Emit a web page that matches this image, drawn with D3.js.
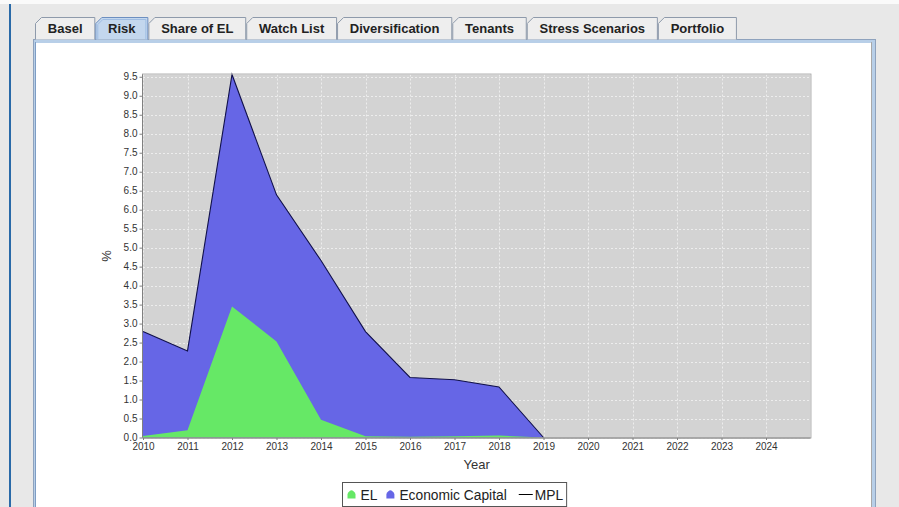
<!DOCTYPE html>
<html>
<head>
<meta charset="utf-8">
<script src="https://cdn.jsdelivr.net/npm/d3@7"></script>
<style>
  html, body { margin: 0; padding: 0; background: #e8e8e8; }
  svg { display: block; }
  text { font-family: "Liberation Sans", Arial, sans-serif; }
</style>
</head>
<body>
<svg id="chart" width="899" height="507"></svg>
<script>
// tabs of the window
var tabNames = ["Basel", "Risk", "Share of EL", "Watch List", "Diversification", "Tenants", "Stress Scenarios", "Portfolio"];
var selectedTab = "Risk";

// chart data
var years = [2010, 2011, 2012, 2013, 2014, 2015, 2016, 2017, 2018, 2019];
var elValues = [0.04, 0.19, 3.45, 2.53, 0.47, 0.03, 0.02, 0.03, 0.05, 0.0];
var ecValues = [2.79, 2.28, 9.56, 6.39, 4.66, 2.79, 1.58, 1.52, 1.33, 0.0];
var mplValues = [2.79, 2.28, 9.56, 6.39, 4.66, 2.79, 1.58, 1.52, 1.33, 0.0];

var xTicks = [2010, 2011, 2012, 2013, 2014, 2015, 2016, 2017, 2018, 2019, 2020, 2021, 2022, 2023, 2024];
var yTicks = [0, 0.5, 1, 1.5, 2, 2.5, 3, 3.5, 4, 4.5, 5, 5.5, 6, 6.5, 7, 7.5, 8, 8.5, 9, 9.5];

var legendItems = [
	{name: "EL", kind: "area", color: "rgb(102,232,102)"},
	{name: "Economic Capital", kind: "area", color: "rgb(102,102,230)"},
	{name: "MPL", kind: "line", color: "#000"}
];

var svg = d3.select("#chart");

/*
 * Window frame
 */
svg.append("rect").attr("x", 0).attr("y", 0).attr("width", 899).attr("height", 4).attr("fill", "#fafafa");
svg.append("rect").attr("x", 9).attr("y", 4).attr("width", 2).attr("height", 503).attr("fill", "#2a6aa8");

// content panel
svg.append("rect").attr("x", 33.5).attr("y", 39.5).attr("width", 842).attr("height", 480)
	.attr("fill", "#b8cfe8").attr("stroke", "#8ea2bd");
svg.append("rect").attr("x", 36).attr("y", 43).attr("width", 835).attr("height", 470)
	.attr("fill", "#ffffff");
svg.append("line").attr("x1", 35.5).attr("x2", 35.5).attr("y1", 42).attr("y2", 507).attr("stroke", "#7f9dc4");
svg.append("line").attr("x1", 871.5).attr("x2", 871.5).attr("y1", 42).attr("y2", 507).attr("stroke", "#a8a8a8");

// tabs
var tabGroup = svg.append("g");
var tabX = 35;
tabNames.forEach(function(name) {
	var g = tabGroup.append("g");
	var label = g.append("text")
		.attr("y", 33)
		.attr("font-size", "13px")
		.attr("font-weight", "bold")
		.attr("fill", "#222")
		.text(name);
	var w = label.node().getComputedTextLength() + 25.6;
	var sel = (name == selectedTab);
	var top = 17.5, bottom = 39.5;
	g.insert("path", "text")
		.attr("d", "M" + (tabX + 0.5) + "," + bottom +
			" L" + (tabX + 0.5) + "," + (top + 6) +
			" L" + (tabX + 6.5) + "," + top +
			" L" + (tabX + w - 0.5) + "," + top +
			" L" + (tabX + w - 0.5) + "," + bottom)
		.attr("fill", sel ? "#c3d7ee" : "#eeeeee")
		.attr("stroke", sel ? "#6d8fc0" : "#8e9aab");
	if(sel) {
		g.insert("path", "text")
			.attr("d", "M" + (tabX + 2.5) + "," + bottom +
				" L" + (tabX + 2.5) + "," + (top + 7) +
				" L" + (tabX + 7.5) + "," + (top + 2) +
				" L" + (tabX + w - 2.5) + "," + (top + 2) +
				" L" + (tabX + w - 2.5) + "," + bottom)
			.attr("fill", "none")
			.attr("stroke", "#9fbde3");
	}
	label.attr("x", tabX + w / 2).attr("text-anchor", "middle");
	tabX += w;
});

/*
 * Chart
 */
var plot = {left: 143, right: 810.5, top: 74.5, bottom: 437.5};

var x = d3.scaleLinear().domain([2010, 2025]).range([plot.left, plot.right]);
var y = d3.scaleLinear().domain([0, 9.56]).range([plot.bottom, plot.top]);

svg.append("rect")
	.attr("x", plot.left).attr("y", plot.top)
	.attr("width", plot.right - plot.left).attr("height", plot.bottom - plot.top)
	.attr("fill", "#d3d3d3");

// grid
var grid = svg.append("g").attr("stroke", "#f4f4f4").attr("stroke-width", 0.8).attr("stroke-dasharray", "2,2");
grid.selectAll(".vg").data(xTicks).enter().append("line")
	.attr("x1", function(d) { return Math.round(x(d)) + 0.5; })
	.attr("x2", function(d) { return Math.round(x(d)) + 0.5; })
	.attr("y1", plot.top).attr("y2", plot.bottom);
grid.selectAll(".hg").data(yTicks).enter().append("line")
	.attr("y1", function(d) { return Math.round(y(d)) + 0.5; })
	.attr("y2", function(d) { return Math.round(y(d)) + 0.5; })
	.attr("x1", plot.left).attr("x2", plot.right);

var valueArea = d3.area()
	.x(function(d, i) { return x(years[i]); })
	.y0(y(0))
	.y1(function(d) { return y(d); });

svg.append("path").datum(ecValues)
	.attr("d", valueArea)
	.attr("fill", legendItems[1].color);

svg.append("path").datum(elValues)
	.attr("d", valueArea)
	.attr("fill", legendItems[0].color);

var mplLine = d3.line()
	.x(function(d, i) { return x(years[i]); })
	.y(function(d) { return y(d); });

svg.append("path").datum(mplValues)
	.attr("d", mplLine)
	.attr("fill", "none")
	.attr("stroke", "#10104a")
	.attr("stroke-width", 1.1);

// outline
svg.append("rect")
	.attr("x", plot.left - 0.5).attr("y", plot.top - 0.5)
	.attr("width", plot.right - plot.left + 1).attr("height", plot.bottom - plot.top + 1)
	.attr("fill", "none").attr("stroke", "#a0a0a0").attr("stroke-width", 0.8);

// axes
var yAxis = d3.axisLeft(y).tickValues(yTicks).tickFormat(d3.format(".1f")).tickSize(3).tickPadding(2);
var yg = svg.append("g").attr("transform", "translate(" + (plot.left - 0.5) + ",0)").call(yAxis);
var xAxis = d3.axisBottom(x).tickValues(xTicks).tickFormat(d3.format("d")).tickSize(2).tickPadding(3);
var xg = svg.append("g").attr("transform", "translate(0," + (plot.bottom + 0.5) + ")").call(xAxis);

[yg, xg].forEach(function(g) {
	g.select(".domain").attr("stroke", "#808080");
	g.selectAll(".tick line").attr("stroke", "#808080");
	g.selectAll(".tick text")
		.attr("font-family", "'Liberation Sans', Arial, sans-serif")
		.attr("font-size", "10px")
		.attr("fill", "#333");
});
xg.select(".domain").attr("d", "M" + plot.left + ",0H" + plot.right);
yg.select(".domain").attr("d", "M0," + plot.top + "V" + plot.bottom);

svg.append("text")
	.attr("x", (plot.left + plot.right) / 2)
	.attr("y", 469)
	.attr("text-anchor", "middle")
	.attr("font-size", "13px")
	.attr("fill", "#333")
	.text("Year");

svg.append("text")
	.attr("transform", "translate(111,256) rotate(-90)")
	.attr("text-anchor", "middle")
	.attr("font-size", "13px")
	.attr("fill", "#333")
	.text("%");

// legend
var legend = svg.append("g");
var legendBox = legend.append("rect")
	.attr("x", 342.5).attr("y", 482.5)
	.attr("height", 24)
	.attr("fill", "#fff").attr("stroke", "#555");
var lx = 347.5;
legendItems.forEach(function(item, i) {
	var g = legend.append("g");
	if(item.kind == "area") {
		g.append("path")
			.attr("d", "M" + lx + ",498.5 L" + lx + ",494 Q" + (lx + 4) + ",486.5 " + (lx + 8) + ",494 L" + (lx + 8) + ",498.5 Z")
			.attr("fill", item.color);
		lx += 13;
	} else {
		g.append("line")
			.attr("x1", lx).attr("x2", lx + 14)
			.attr("y1", 494.5).attr("y2", 494.5)
			.attr("stroke", item.color);
		lx += 16;
	}
	var t = g.append("text")
		.attr("x", lx).attr("y", 499.5)
		.attr("font-size", "13.8px")
		.attr("fill", "#222")
		.text(item.name);
	lx += t.node().getComputedTextLength() + (i == 0 ? 9 : 12);
});
legendBox.attr("width", lx - 342 - 9);
</script>
</body>
</html>
